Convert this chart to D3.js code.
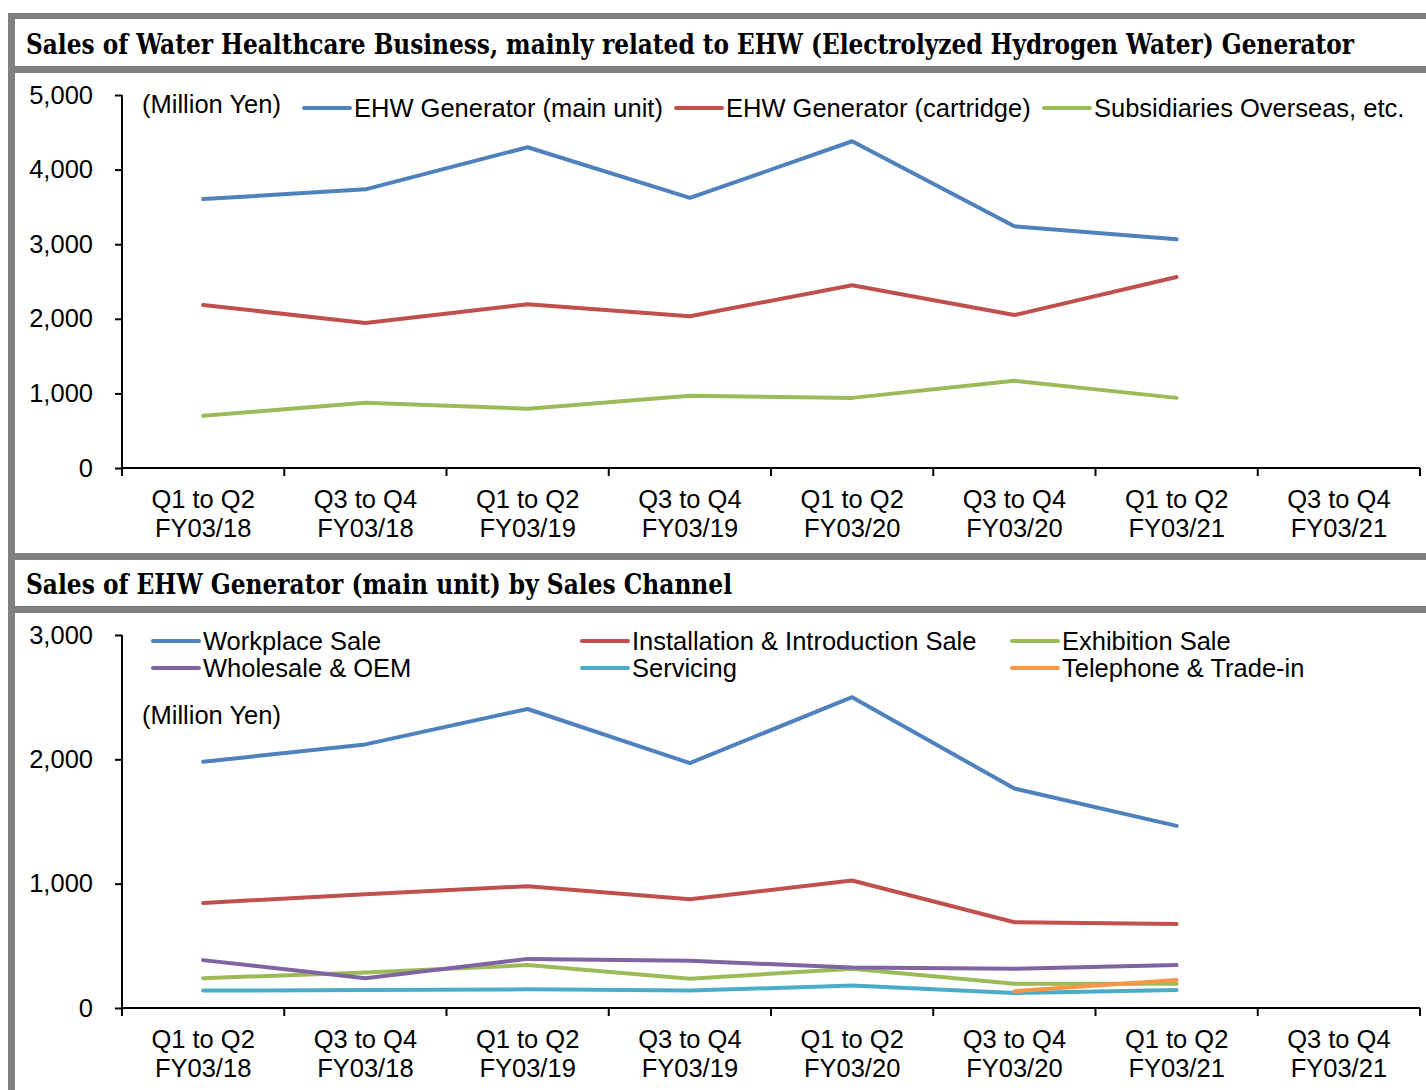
<!DOCTYPE html>
<html><head><meta charset="utf-8">
<script src="https://cdn.jsdelivr.net/npm/d3@7"></script>
<style>body{margin:0;background:#fff}svg{display:block}</style>
</head><body>
<script>
const categories = [
  ["Q1 to Q2","FY03/18"],["Q3 to Q4","FY03/18"],["Q1 to Q2","FY03/19"],["Q3 to Q4","FY03/19"],
  ["Q1 to Q2","FY03/20"],["Q3 to Q4","FY03/20"],["Q1 to Q2","FY03/21"],["Q3 to Q4","FY03/21"]
];
// Chart 1 (Million Yen)
const mainUnit   = [3605, 3735, 4300, 3620, 4380, 3240, 3065, null];
const cartridge  = [2185, 1945, 2195, 2035, 2450, 2050, 2560, null];
const overseas   = [700, 875, 795, 970, 940, 1170, 940, null];
const ticks1 = [0, 1000, 2000, 3000, 4000, 5000];
// Chart 2 (Million Yen)
const workplace  = [1980, 2120, 2405, 1970, 2500, 1765, 1465, null];
const installation = [845, 915, 980, 875, 1025, 690, 675, null];
const wholesale  = [385, 240, 395, 380, 325, 315, 345, null];
const exhibition = [240, 285, 345, 235, 315, 195, 195, null];
const servicing  = [140, 145, 150, 140, 180, 120, 145, null];
const telephone  = [null, null, null, null, null, 135, 225, null];
const ticks2 = [0, 1000, 2000, 3000];

const W = 1426, H = 1090;
const svg = d3.select("body").append("svg").attr("width", W).attr("height", H);
const grey = "#808080";
const FONT = "Liberation Sans, Arial, sans-serif";
const SERIF = "DejaVu Serif Condensed, DejaVu Serif, serif";

// frame
svg.append("rect").attr("x", 8).attr("y", 13).attr("width", 7).attr("height", H - 13).attr("fill", grey);
[[13,6],[66,7],[553,7],[606,7]].forEach(([y,h]) =>
  svg.append("rect").attr("x", 8).attr("y", y).attr("width", W - 8).attr("height", h).attr("fill", grey));

function title(txt, y, len) {
  const t = svg.append("text").attr("x", 26).attr("y", y).attr("font-family", SERIF)
    .attr("font-size", 27).attr("font-weight", "bold").attr("font-stretch", "condensed")
    .attr("fill", "#000").text(txt);
  const w = t.node().getComputedTextLength();
  if (Math.abs(w - len) > 2) t.attr("textLength", len).attr("lengthAdjust", "spacingAndGlyphs");
}
title("Sales of Water Healthcare Business, mainly related to EHW (Electrolyzed Hydrogen Water) Generator", 54, 1328);
title("Sales of EHW Generator (main unit) by Sales Channel", 594, 706);

const x = d3.scaleBand().domain(d3.range(categories.length)).range([122, 1420]).paddingInner(0).paddingOuter(0);

function chart(opts) {
  const y = d3.scaleLinear().domain(opts.domain).range([opts.y0, opts.yTop]);
  const g = svg.append("g");
  // y axis
  const ya = d3.axisLeft(y).tickValues(opts.ticks).tickSize(7).tickFormat(d3.format(","));
  const yg = g.append("g").attr("transform", "translate(122,0)").call(ya);
  yg.select(".domain").remove();
  yg.append("line").attr("x1", 0).attr("x2", 0).attr("y1", opts.yTop).attr("y2", opts.y0).attr("stroke", "#000").attr("stroke-width", 2);
  yg.selectAll(".tick line").attr("stroke", "#000").attr("stroke-width", 2);
  yg.selectAll(".tick text").attr("x", -29).attr("font-family", FONT).attr("font-size", 25.5).attr("fill", "#000");
  // x axis
  const xg = g.append("g").attr("transform", `translate(0,${opts.y0})`);
  xg.append("line").attr("x1", 122).attr("x2", 1420).attr("stroke", "#000").attr("stroke-width", 2);
  const edges = d3.range(categories.length + 1).map(i => i < categories.length ? x(i) : x(i - 1) + x.bandwidth());
  xg.selectAll("line.t").data(edges).join("line").attr("class", "t")
    .attr("x1", d => d).attr("x2", d => d).attr("y1", 0).attr("y2", 8).attr("stroke", "#000").attr("stroke-width", 2);
  const lab = xg.selectAll("text.c").data(categories).join("text").attr("class", "c")
    .attr("x", (d, i) => x(i) + x.bandwidth() / 2).attr("text-anchor", "middle")
    .attr("font-family", FONT).attr("font-size", 25.5).attr("fill", "#000");
  lab.append("tspan").attr("x", (d, i) => x(i) + x.bandwidth() / 2).attr("y", 40).text(d => d[0]);
  lab.append("tspan").attr("x", (d, i) => x(i) + x.bandwidth() / 2).attr("y", 69).text(d => d[1]);
  // lines
  const line = d3.line().defined(d => d != null).x((d, i) => x(i) + x.bandwidth() / 2).y(d => y(d));
  opts.series.forEach(s => {
    g.append("path").attr("d", line(s.values)).attr("fill", "none").attr("stroke", s.color)
      .attr("stroke-width", 4).attr("stroke-linejoin", "round").attr("stroke-linecap", "round");
  });
  // legend
  opts.series.forEach(s => {
    g.append("line").attr("x1", s.lx).attr("x2", s.lx + 46).attr("y1", s.ly).attr("y2", s.ly)
      .attr("stroke", s.color).attr("stroke-width", 4).attr("stroke-linecap", "round");
    g.append("text").attr("x", s.lx + 50).attr("y", s.ly).attr("dy", "0.35em")
      .attr("font-family", FONT).attr("font-size", 25.5).attr("fill", "#000").text(s.name);
  });
  g.append("text").attr("x", opts.unit[0]).attr("y", opts.unit[1]).attr("dy", "0.35em")
    .attr("font-family", FONT).attr("font-size", 25.5).attr("fill", "#000").text("(Million Yen)");
}

chart({
  domain: [0, 5000], y0: 468, yTop: 95, ticks: ticks1, unit: [142, 104],
  series: [
    {name: "EHW Generator (main unit)", values: mainUnit, color: "#4F81BD", lx: 304, ly: 108},
    {name: "EHW Generator (cartridge)", values: cartridge, color: "#C0504D", lx: 676, ly: 108},
    {name: "Subsidiaries Overseas, etc.", values: overseas, color: "#9BBB59", lx: 1044, ly: 108}
  ]
});
chart({
  domain: [0, 3000], y0: 1008, yTop: 635, ticks: ticks2, unit: [142, 715],
  series: [
    {name: "Workplace Sale", values: workplace, color: "#4F81BD", lx: 153, ly: 641},
    {name: "Installation & Introduction Sale", values: installation, color: "#C0504D", lx: 582, ly: 641},
    {name: "Exhibition Sale", values: exhibition, color: "#9BBB59", lx: 1012, ly: 641},
    {name: "Wholesale & OEM", values: wholesale, color: "#8064A2", lx: 153, ly: 668},
    {name: "Servicing", values: servicing, color: "#4BACC6", lx: 582, ly: 668},
    {name: "Telephone & Trade-in", values: telephone, color: "#F79646", lx: 1012, ly: 668}
  ]
});
</script>
</body></html>
